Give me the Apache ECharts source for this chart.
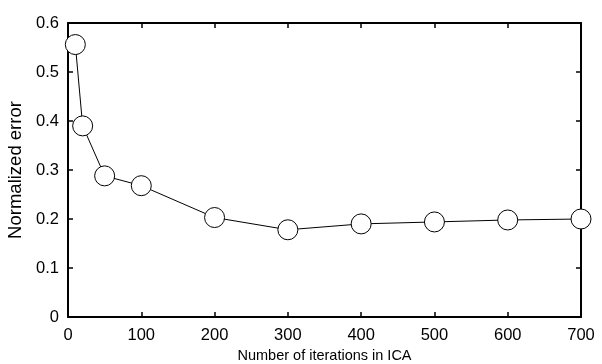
<!DOCTYPE html>
<html><head><meta charset="utf-8">
<script src="https://cdn.jsdelivr.net/npm/echarts@6/dist/echarts.min.js"></script>
<style>html,body{margin:0;padding:0;background:#fff}#c{width:602px;height:364px}</style>
</head><body><div id="c"></div>
<script>
const iterations = [10, 20, 50, 100, 200, 300, 400, 500, 600, 700];
const normalizedError = [0.556, 0.390, 0.288, 0.268, 0.203, 0.178, 0.190, 0.194, 0.198, 0.200];
const xTitle = 'Number of iterations in ICA';
const yTitle = 'Normalized error';

const chart = echarts.init(document.getElementById('c'));
const font = 'Liberation Sans, Arial, sans-serif';
const axisBase = {
  type: 'value',
  axisLine: {show: true, onZero: false, lineStyle: {color: '#000', width: 2}},
  axisTick: {show: true, inside: true, length: 5, lineStyle: {color: '#000', width: 1.5}},
  splitLine: {show: false}
};
chart.setOption({
  animation: false,
  backgroundColor: '#fff',
  grid: {left: 68, right: 21, top: 23, bottom: 47, containLabel: false, outerBoundsMode: 'none'},
  xAxis: [
    Object.assign({}, axisBase, {
      min: 0, max: 700, interval: 100, position: 'bottom',
      name: xTitle, nameLocation: 'middle', nameGap: 31,
      nameTextStyle: {fontFamily: font, fontSize: 14.5, color: '#000'},
      axisLabel: {fontFamily: font, fontSize: 16.5, color: '#000', margin: 10}
    }),
    Object.assign({}, axisBase, {
      min: 0, max: 700, interval: 100, position: 'top',
      axisLabel: {show: false}
    })
  ],
  yAxis: [
    Object.assign({}, axisBase, {
      min: 0, max: 0.6, interval: 0.1, position: 'left',
      name: yTitle, nameLocation: 'middle', nameGap: 40,
      nameTextStyle: {fontFamily: font, fontSize: 18.5, color: '#000'},
      axisLabel: {fontFamily: font, fontSize: 16.5, color: '#000', margin: 9,
        formatter: v => v === 0 ? '0' : v.toFixed(1)}
    }),
    Object.assign({}, axisBase, {
      min: 0, max: 0.6, interval: 0.1, position: 'right',
      axisLabel: {show: false}
    })
  ],
  series: [{
    type: 'line',
    data: iterations.map((x, i) => [x, normalizedError[i]]),
    symbol: 'circle', symbolSize: 20,
    lineStyle: {color: '#000', width: 1},
    itemStyle: {color: '#fff', borderColor: '#000', borderWidth: 1},
    clip: false
  }]
});
</script></body></html>
